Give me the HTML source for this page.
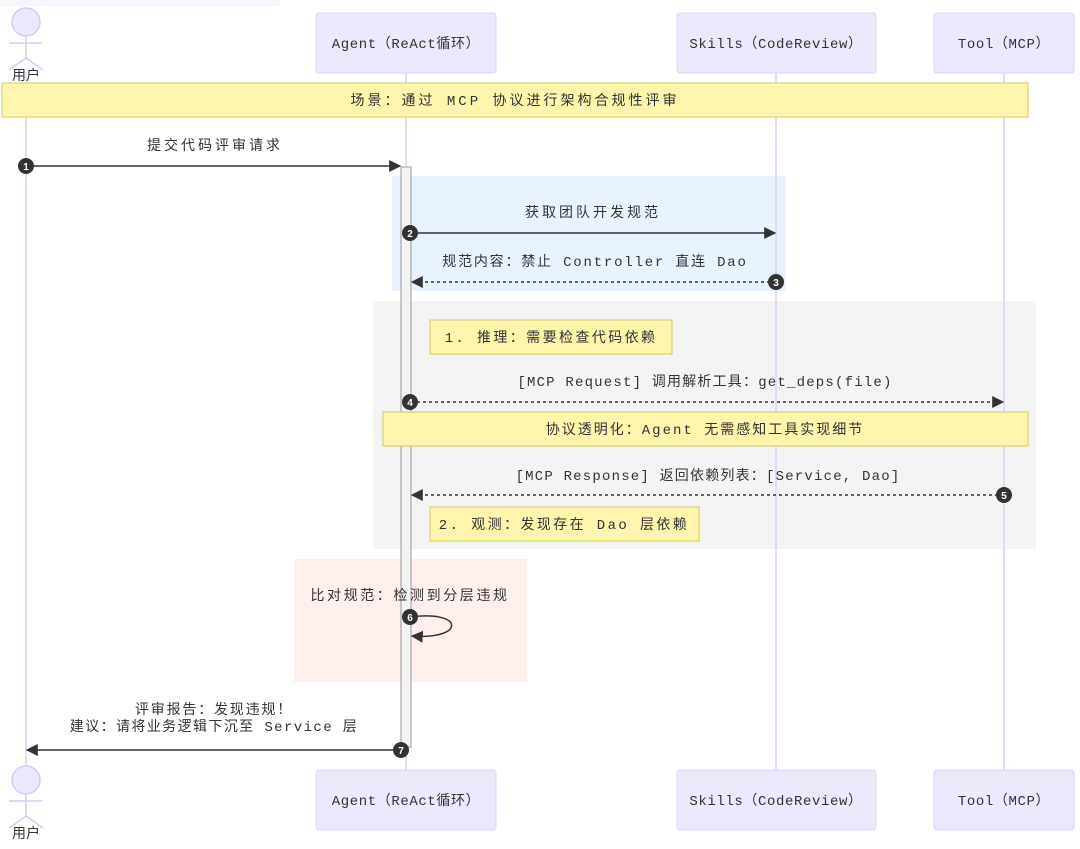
<!DOCTYPE html>
<html><head><meta charset="utf-8"><style>
body{margin:0;background:#fff}
text{font-family:"Liberation Mono","Noto Sans CJK SC",monospace;font-size:14px;fill:#333;letter-spacing:1.6px}
.c{text-anchor:middle}
.n{font-size:10px;fill:#fff;font-family:"Liberation Sans",sans-serif;font-weight:bold;letter-spacing:0}
</style></head><body>
<svg width="1080" height="844" xmlns="http://www.w3.org/2000/svg">
<defs>
<marker id="a" viewBox="0 0 10 10" refX="9" refY="5" markerWidth="8" markerHeight="8" orient="auto"><path d="M0,0L10,5L0,10z" fill="#333"/></marker>
</defs>
<rect x="0" y="0" width="280" height="6" fill="#f3f6fb"/>
<rect x="392" y="176" width="394" height="115" fill="#e8f3ff"/>
<rect x="373" y="301" width="663" height="248" fill="#f4f4f4"/>
<rect x="294" y="559" width="233" height="123" fill="#fff0ee"/>
<g stroke="#d9d2f5" stroke-width="1.5">
<line x1="26" y1="72" x2="26" y2="770"/>
<line x1="406" y1="73" x2="406" y2="770"/>
<line x1="776" y1="73" x2="776" y2="770"/>
<line x1="1004" y1="73" x2="1004" y2="770"/>
</g>
<g fill="#ece9fc" stroke="#d4cbf5" stroke-width="1.5">
<circle cx="26" cy="22" r="14"/>
<line x1="26" y1="36" x2="26" y2="58"/><line x1="9" y1="43" x2="42" y2="43"/>
<polyline points="9,70 26,58 43,70" fill="none"/>
<circle cx="26" cy="780" r="14"/>
<line x1="26" y1="794" x2="26" y2="816"/><line x1="9" y1="801" x2="42" y2="801"/>
<polyline points="9,828 26,816 43,828" fill="none"/>
</g>
<text x="26" y="80" class="c" style="letter-spacing:0">用户</text>
<text x="26" y="838" class="c" style="letter-spacing:0">用户</text>
<g fill="#ece9fc" stroke="#dcd3f7">
<rect x="316" y="13" width="180" height="60" rx="3"/>
<rect x="677" y="13" width="199" height="60" rx="3"/>
<rect x="934" y="13" width="140" height="60" rx="3"/>
<rect x="316" y="770" width="180" height="60" rx="3"/>
<rect x="677" y="770" width="199" height="60" rx="3"/>
<rect x="934" y="770" width="140" height="60" rx="3"/>
</g>
<text x="406" y="48" class="c" style="letter-spacing:0.6px">Agent（ReAct循环）</text>
<text x="776" y="48" class="c" style="letter-spacing:0.6px">Skills（CodeReview）</text>
<text x="1004" y="48" class="c" style="letter-spacing:0.6px">Tool（MCP）</text>
<text x="406" y="805" class="c" style="letter-spacing:0.6px">Agent（ReAct循环）</text>
<text x="776" y="805" class="c" style="letter-spacing:0.6px">Skills（CodeReview）</text>
<text x="1004" y="805" class="c" style="letter-spacing:0.6px">Tool（MCP）</text>
<rect x="401" y="167" width="10" height="580" fill="#f4f4f4" stroke="#999"/>
<g fill="#fff5ad" stroke="#d4ca5a">
<rect x="2" y="83" width="1026" height="34"/>
<rect x="430" y="320" width="242" height="34"/>
<rect x="383" y="412" width="645" height="34"/>
<rect x="430" y="507" width="269" height="34"/>
</g>
<text x="515" y="105" class="c" style="letter-spacing:3px">场景：通过 MCP 协议进行架构合规性评审</text>
<text x="551" y="342" class="c" style="letter-spacing:2.4px">1. 推理：需要检查代码依赖</text>
<text x="705" y="434" class="c" style="letter-spacing:2px">协议透明化：Agent 无需感知工具实现细节</text>
<text x="564" y="529" class="c" style="letter-spacing:2.4px">2. 观测：发现存在 Dao 层依赖</text>
<g stroke="#333" stroke-width="1.5" fill="none">
<line x1="26" y1="166" x2="400" y2="166" marker-end="url(#a)"/>
<line x1="411" y1="233" x2="775" y2="233" marker-end="url(#a)"/>
<line x1="776" y1="282" x2="412" y2="282" stroke-dasharray="3,3" marker-end="url(#a)"/>
<line x1="411" y1="402" x2="1003" y2="402" stroke-dasharray="3,3" marker-end="url(#a)"/>
<line x1="1004" y1="495" x2="412" y2="495" stroke-dasharray="3,3" marker-end="url(#a)"/>
<path d="M411,617 C465,610 465,640 412,636" marker-end="url(#a)"/>
<line x1="401" y1="750" x2="27" y2="750" marker-end="url(#a)"/>
</g>
<text x="215" y="150" class="c" style="letter-spacing:3px">提交代码评审请求</text>
<text x="593" y="217" class="c" style="letter-spacing:3px">获取团队开发规范</text>
<text x="595" y="266" class="c" style="letter-spacing:1.8px">规范内容：禁止 Controller 直连 Dao</text>
<text x="705" y="386" class="c" style="letter-spacing:1.2px">[MCP Request] 调用解析工具：get_deps(file)</text>
<text x="708" y="480" class="c" style="letter-spacing:1.2px">[MCP Response] 返回依赖列表：[Service, Dao]</text>
<text x="410" y="600" class="c" style="letter-spacing:2.6px">比对规范：检测到分层违规</text>
<text x="214" y="714" class="c" style="letter-spacing:1.8px">评审报告：发现违规！</text>
<text x="214" y="731" class="c" style="letter-spacing:1.4px">建议：请将业务逻辑下沉至 Service 层</text>
<g fill="#333">
<circle cx="26" cy="166" r="8"/><circle cx="410" cy="233" r="8"/><circle cx="776" cy="282" r="8"/>
<circle cx="410" cy="402" r="8"/><circle cx="1004" cy="495" r="8"/><circle cx="410" cy="617" r="8"/><circle cx="401" cy="750" r="8"/>
</g>
<text x="26" y="170" class="c n">1</text>
<text x="410" y="237" class="c n">2</text>
<text x="776" y="286" class="c n">3</text>
<text x="410" y="406" class="c n">4</text>
<text x="1004" y="499" class="c n">5</text>
<text x="410" y="621" class="c n">6</text>
<text x="401" y="754" class="c n">7</text>
</svg>
</body></html>
